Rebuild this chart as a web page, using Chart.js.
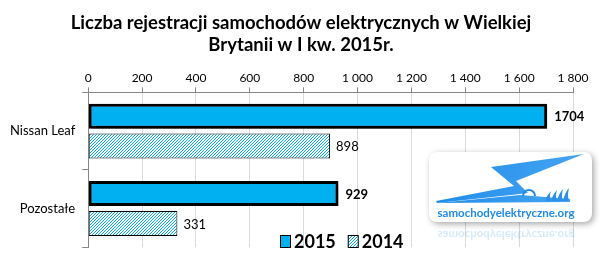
<!DOCTYPE html>
<html>
<head>
<meta charset="utf-8">
<script src="https://cdn.jsdelivr.net/npm/chart.js@4"></script>
<style>
  html, body { margin: 0; padding: 0; background: #fff; }
  #wrap { width: 600px; height: 262px; }
</style>
</head>
<body>
<div id="wrap"><canvas id="evChart" width="600" height="262"></canvas></div>
<script>
// Chart data
const categories = ['Nissan Leaf', 'Pozostałe'];
const seriesNames = ['2015', '2014'];
const values2015 = [1704, 929];
const values2014 = [898, 331];
const xTicks = [0, 200, 400, 600, 800, 1000, 1200, 1400, 1600, 1800];
const titleLines = ['Liczba rejestracji samochodów elektrycznych w Wielkiej', 'Brytanii w I kw. 2015r.'];

const FONT = "Lato, 'Open Sans', sans-serif";
const BLUE = '#00b0f0';

// diagonal hatch used by the 2014 series (pixel exact, no antialiasing)
function makeHatch() {
    const c = document.createElement('canvas');
    c.width = 3; c.height = 3;
    const g = c.getContext('2d');
    g.fillStyle = '#ffffff';
    g.fillRect(0, 0, 3, 3);
    g.fillStyle = BLUE;
    for (let x = 0; x < 3; x++) {
        g.fillRect(x, 2 - x, 1, 1);
    }
    return g.createPattern(c, 'repeat');
}
const hatch = makeHatch();

function fmt(v) {
    return String(v).replace(/\B(?=(\d{3})+(?!\d))/g, ' ');
}

// title centred on the whole image, not on the plot
const titlePlugin = {
    id: 'pageTitle',
    afterDraw(chart) {
        const ctx = chart.ctx;
        ctx.save();
        ctx.font = 'bold 18.5px ' + FONT;
        ctx.fillStyle = '#000';
        ctx.textAlign = 'center';
        ctx.textBaseline = 'middle';
        titleLines.forEach((t, i) => ctx.fillText(t, 301, 23 + i * 22));
        ctx.restore();
    }
};

// drop shadow behind the 2015 bars
const shadowPlugin = {
    id: 'barShadow',
    beforeDatasetDraw(chart, args) {
        if (args.index !== 0) return;
        const ctx = chart.ctx;
        ctx.save();
        ctx.shadowColor = 'rgba(0,0,0,0.45)';
        ctx.shadowBlur = 4;
        ctx.shadowOffsetX = 3;
        ctx.shadowOffsetY = 3;
    },
    afterDatasetDraw(chart, args) {
        if (args.index !== 0) return;
        chart.ctx.restore();
    }
};

// value labels at bar ends
const valueLabels = {
    id: 'valueLabels',
    afterDatasetsDraw(chart) {
        const ctx = chart.ctx;
        ctx.save();
        ctx.textBaseline = 'middle';
        ctx.textAlign = 'left';
        ctx.fillStyle = '#000';
        chart.data.datasets.forEach((ds, i) => {
            const meta = chart.getDatasetMeta(i);
            ctx.font = (i === 0 ? 'bold ' : '') + '13px ' + FONT;
            meta.data.forEach((el, j) => {
                ctx.fillText(String(ds.data[j]), el.x + (i === 0 ? 7 : 6), el.y + 1);
            });
        });
        ctx.restore();
    }
};

// legend drawn inside the plot, bottom centre
const innerLegend = {
    id: 'innerLegend',
    afterDatasetsDraw(chart) {
        const ctx = chart.ctx;
        ctx.save();
        ctx.font = 'bold 18px ' + FONT;
        ctx.textBaseline = 'middle';
        let x = 280;
        const y = 241;
        chart.data.datasets.forEach((ds, i) => {
            ctx.fillStyle = i === 0 ? BLUE : hatch;
            ctx.fillRect(x, y - 6, 10, 12);
            ctx.lineWidth = 1;
            ctx.strokeStyle = '#000';
            ctx.strokeRect(x + 0.5, y - 5.5, 10, 12);
            ctx.fillStyle = '#000';
            ctx.fillText(ds.label, x + 14, y + 1);
            x += 14 + ctx.measureText(ds.label).width + 12;
        });
        ctx.restore();
    }
};

// site logo in the lower right corner
const logoPlugin = {
    id: 'logo',
    afterDraw(chart) {
        const ctx = chart.ctx;
        ctx.save();
        const x0 = 429, y0 = 152, w = 163, h = 70, r = 8;
        ctx.shadowColor = 'rgba(0,0,0,0.35)';
        ctx.shadowBlur = 6;
        ctx.shadowOffsetX = 2;
        ctx.shadowOffsetY = 2;
        ctx.fillStyle = '#fff';
        ctx.beginPath();
        ctx.roundRect(x0, y0, w, h, r);
        ctx.fill();
        ctx.shadowColor = 'transparent';

        const grad = ctx.createLinearGradient(440, 155, 585, 205);
        grad.addColorStop(0, '#1e8be8');
        grad.addColorStop(1, '#4aa8f5');
        ctx.fillStyle = grad;
        // bolt
        ctx.beginPath();
        ctx.moveTo(491, 167);
        ctx.lineTo(584, 154);
        ctx.lineTo(516, 181);
        ctx.lineTo(528, 193);
        ctx.lineTo(520, 194);
        ctx.lineTo(437, 203);
        ctx.lineTo(436, 201);
        ctx.lineTo(514, 186);
        ctx.closePath();
        ctx.fill();
        // car body and wheel
        ctx.beginPath();
        ctx.moveTo(437, 203);
        ctx.lineTo(570, 202);
        ctx.lineTo(570, 199);
        ctx.lineTo(520, 195);
        ctx.closePath();
        ctx.fill();
        ctx.strokeStyle = '#1e8be8';
        ctx.lineWidth = 2;
        ctx.beginPath();
        ctx.arc(529, 196, 6, Math.PI, 0);
        ctx.stroke();
        // flames
        ctx.fillStyle = '#2a90ea';
        [548, 554, 560, 566].forEach((fx, k) => {
            ctx.beginPath();
            ctx.moveTo(fx - 3, 201);
            ctx.quadraticCurveTo(fx - 1, 195 - k, fx + 3, 191 - k);
            ctx.quadraticCurveTo(fx + 1, 196, fx + 3, 201);
            ctx.closePath();
            ctx.fill();
        });

        ctx.font = 'bold 11.5px ' + FONT;
        ctx.textAlign = 'center';
        ctx.textBaseline = 'alphabetic';
        ctx.fillStyle = '#1e8be8';
        ctx.fillText('samochodyelektryczne.org', 506, 217);
        // faint reflection
        ctx.save();
        ctx.translate(0, 448);
        ctx.scale(1, -1);
        ctx.globalAlpha = 0.18;
        ctx.fillText('samochodyelektryczne.org', 506, 217);
        ctx.restore();
        ctx.restore();
    }
};

new Chart(document.getElementById('evChart'), {
    type: 'bar',
    data: {
        labels: categories,
        datasets: [{
            label: seriesNames[0],
            data: values2015,
            backgroundColor: BLUE,
            borderColor: '#000',
            borderWidth: 3,
            borderSkipped: false
        }, {
            label: seriesNames[1],
            data: values2014,
            backgroundColor: hatch,
            borderColor: '#000',
            borderWidth: 1,
            borderSkipped: false
        }]
    },
    options: {
        indexAxis: 'y',
        responsive: false,
        animation: false,
        categoryPercentage: 0.77,
        barPercentage: 0.84,
        layout: { padding: { left: 3, right: 27, bottom: 13, top: 69 } },
        scales: {
            x: {
                position: 'top',
                min: 0,
                max: 1800,
                afterBuildTicks(axis) {
                    axis.ticks = xTicks.map(v => ({ value: v }));
                },
                ticks: {
                    color: '#000',
                    font: { family: FONT, size: 12 },
                    padding: 2,
                    maxRotation: 0,
                    callback: v => fmt(v)
                },
                grid: {
                    color: '#d9d9d9',
                    tickColor: '#868686',
                    tickLength: 5,
                    lineWidth: 1
                },
                border: { color: '#868686', width: 1 }
            },
            y: {
                ticks: {
                    color: '#000',
                    font: { family: FONT, size: 13 },
                    padding: 7
                },
                grid: {
                    drawOnChartArea: false,
                    tickColor: '#868686',
                    tickLength: 6
                },
                border: { color: '#868686', width: 1 }
            }
        },
        plugins: {
            legend: { display: false },
            tooltip: { enabled: false },
            title: { display: false }
        }
    },
    plugins: [titlePlugin, shadowPlugin, valueLabels, innerLegend, logoPlugin]
});
</script>
</body>
</html>
